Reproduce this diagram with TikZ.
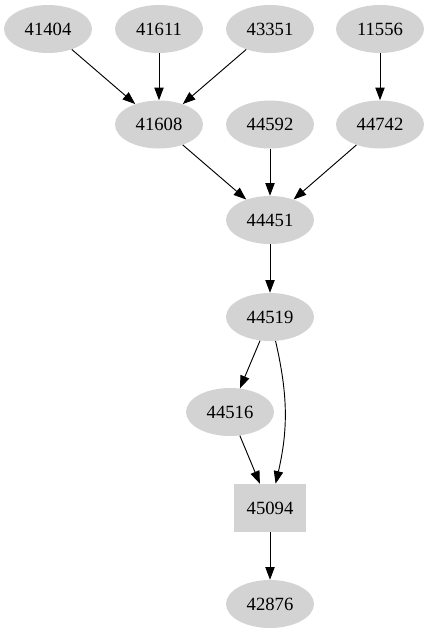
\documentclass[tikz,border=0pt]{standalone}
\usepackage{fontspec}
\setmainfont{Liberation Serif}
\usetikzlibrary{arrows.meta}
\usetikzlibrary{shapes.geometric}

\begin{document}
\begin{tikzpicture}[
	x=0.75pt,y=-0.75pt,
	oval/.style={
		ellipse,fill={rgb,255:red,211;green,211;blue,211},
		minimum width=66pt,
		minimum height=36pt,
		inner sep=0pt,
		font=\fontsize{14}{16}\selectfont,
	},
	block/.style={
		rectangle,fill={rgb,255:red,211;green,211;blue,211},
		minimum width=54pt,
		minimum height=36pt,
		inner sep=0pt,
		font=\fontsize{14}{16}\selectfont,
	},
	edge/.style={-{Triangle[length=9.5pt,width=7pt]},line width=0.7pt}
]
\useasboundingbox (0,0) rectangle (429,635);
\node [oval] (n41404) at (48,29) {41404};
\node [oval] (n41611) at (159,29) {41611};
\node [oval] (n43351) at (270,29) {43351};
\node [oval] (n11556) at (380,29) {11556};
\node [oval] (n41608) at (159,124.5) {41608};
\node [oval] (n44592) at (270,124.5) {44592};
\node [oval] (n44742) at (380,124.5) {44742};
\node [oval] (n44451) at (270,220) {44451};
\node [oval] (n44519) at (270,317) {44519};
\node [oval] (n44516) at (230,412) {44516};
\node [block] (n45094) at (270,508) {45094};
\node [oval] (n42876) at (270,604) {42876};

\draw [edge] (n41404) -- (n41608);
\draw [edge] (n41611) -- (n41608);
\draw [edge] (n43351) -- (n41608);
\draw [edge] (n11556) -- (n44742);
\draw [edge] (n41608) -- (n44451);
\draw [edge] (n44592) -- (n44451);
\draw [edge] (n44742) -- (n44451);
\draw [edge] (n44451) -- (n44519);
\draw [edge] (n44519) -- (n44516);
\draw [edge] (n44519) to[bend left=13] (n45094);
\draw [edge] (n44516) -- (n45094);
\draw [edge] (n45094) -- (n42876);
\end{tikzpicture}
\end{document}
